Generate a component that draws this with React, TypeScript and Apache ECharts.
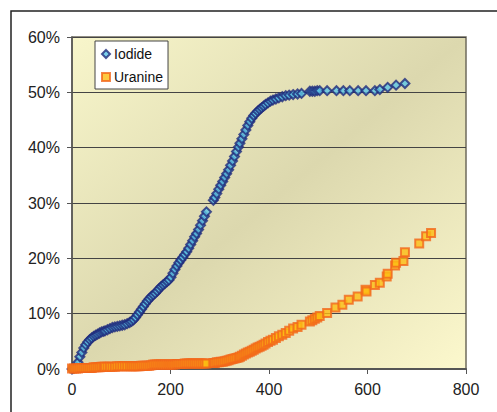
import React, { useEffect, useRef } from "react";
import * as echarts from "echarts";

const iodideT = [0, 4, 8, 12, 16, 20, 24, 28, 32, 36, 40, 44, 48, 52, 56, 60, 64, 67, 72, 77, 82, 87, 92, 97, 102, 107, 112, 117, 121, 125, 129, 133, 137, 141, 145, 149, 153, 157, 161, 165, 169, 173, 177, 181, 185, 189, 193, 197, 201, 205, 209, 213, 217, 221, 225, 229, 233, 237, 241, 245, 249, 253, 257, 261, 265, 269, 273, 287, 290, 294, 298, 302, 306, 310, 314, 318, 322, 326, 330, 334, 338, 341, 345, 349, 353, 357, 361, 365, 369, 373, 377, 381, 385, 389, 393, 398, 403, 408, 414, 420, 427, 434, 441, 449, 458, 466, 483, 488, 493, 498, 503, 518, 537, 551, 564, 581, 597, 615, 625, 641, 658, 676];
const iodideV = [0, 0.1, 0.4, 1.2, 2.2, 3.0, 3.8, 4.4, 4.9, 5.3, 5.6, 5.9, 6.1, 6.3, 6.5, 6.7, 6.8, 6.9, 7.1, 7.3, 7.5, 7.6, 7.7, 7.8, 7.9, 8.0, 8.2, 8.4, 8.6, 8.9, 9.3, 9.8, 10.3, 10.8, 11.3, 11.8, 12.3, 12.7, 13.1, 13.4, 13.7, 14.1, 14.5, 14.9, 15.2, 15.5, 15.8, 16.1, 16.6, 17.3, 18.0, 18.6, 19.2, 19.7, 20.2, 20.7, 21.2, 21.8, 22.5, 23.2, 23.9, 24.5, 25.2, 26.0, 26.8, 27.6, 28.4, 30.5, 31.0, 31.7, 32.5, 33.2, 33.9, 34.6, 35.3, 36.0, 36.8, 37.6, 38.4, 39.3, 40.1, 40.8, 41.6, 42.4, 43.2, 44.0, 44.7, 45.3, 45.8, 46.2, 46.6, 46.9, 47.2, 47.5, 47.8, 48.1, 48.4, 48.6, 48.8, 49.0, 49.2, 49.4, 49.5, 49.6, 49.7, 49.8, 50.2, 50.2, 50.2, 50.3, 50.3, 50.3, 50.3, 50.3, 50.3, 50.3, 50.3, 50.3, 50.5, 50.9, 51.3, 51.6];

const uranineT = [0, 4, 8, 12, 16, 20, 24, 28, 32, 36, 40, 44, 48, 52, 56, 60, 64, 67, 72, 77, 82, 87, 92, 97, 102, 107, 112, 117, 121, 125, 129, 133, 137, 141, 145, 149, 153, 157, 161, 165, 169, 173, 177, 181, 185, 189, 193, 197, 201, 205, 209, 213, 217, 221, 225, 229, 233, 237, 241, 245, 249, 253, 257, 261, 265, 269, 273, 287, 290, 294, 298, 302, 306, 310, 314, 318, 322, 326, 330, 334, 338, 341, 345, 349, 353, 357, 361, 365, 369, 373, 377, 381, 385, 389, 393, 398, 403, 408, 414, 420, 427, 434, 441, 449, 458, 466, 483, 488, 493, 498, 503, 518, 535, 549, 562, 580, 596, 598, 615, 625, 639, 641, 656, 658, 673, 676, 705, 719, 729];
const uranineV = [0.1, 0.1, 0.1, 0.1, 0.2, 0.2, 0.2, 0.2, 0.2, 0.2, 0.2, 0.3, 0.3, 0.3, 0.3, 0.4, 0.4, 0.4, 0.4, 0.4, 0.4, 0.4, 0.5, 0.5, 0.5, 0.5, 0.5, 0.5, 0.5, 0.5, 0.5, 0.5, 0.5, 0.6, 0.6, 0.6, 0.6, 0.6, 0.7, 0.8, 0.8, 0.8, 0.8, 0.8, 0.8, 0.8, 0.8, 0.8, 0.8, 0.8, 0.8, 0.9, 0.9, 0.9, 0.9, 1.0, 1.0, 1.0, 1.0, 1.0, 1.0, 1.0, 1.0, 1.0, 1.0, 1.0, 1.0, 1.1, 1.1, 1.2, 1.2, 1.3, 1.3, 1.4, 1.5, 1.6, 1.7, 1.8, 1.9, 2.0, 2.1, 2.2, 2.4, 2.6, 2.8, 3.0, 3.1, 3.3, 3.5, 3.7, 3.9, 4.0, 4.2, 4.4, 4.6, 4.9, 5.1, 5.3, 5.6, 5.9, 6.2, 6.5, 6.9, 7.3, 7.6, 8.0, 8.6, 8.8, 9.1, 9.3, 9.6, 10.1, 11.1, 11.6, 12.5, 13.1, 14.3, 14.0, 15.2, 15.6, 16.7, 17.2, 18.7, 19.2, 19.5, 21.1, 22.7, 24.0, 24.6];

const xTicks = [0, 200, 400, 600, 800];
const yTicks = [0, 10, 20, 30, 40, 50, 60];

export default function App() {
  const ref = useRef<HTMLDivElement>(null);
  useEffect(() => {
    if (!ref.current) return;
    const chart = echarts.init(ref.current, undefined, { renderer: "svg" });
    const font = "'Liberation Sans', Arial, sans-serif";
    chart.setOption({
      animation: false,
      graphic: [
        {
          type: "rect",
          shape: { x: 11, y: 11, width: 520, height: 440 },
          style: { fill: "none", stroke: "#222", lineWidth: 1.5 },
          z: -10,
        },
      ],
      grid: {
        left: 72,
        top: 37,
        right: 31,
        bottom: 43,
        show: true,
        borderColor: "#6f6b5c",
        borderWidth: 1.5,
        backgroundColor: new echarts.graphic.LinearGradient(0, 0, 1, 1, [
          { offset: 0, color: "#f8f6cb" },
          { offset: 0.5, color: "#dcd8ae" },
          { offset: 1, color: "#fcf8cd" },
        ]),
      },
      legend: {
        left: 95,
        top: 41,
        orient: "vertical",
        backgroundColor: "#ffffff",
        borderColor: "#444",
        borderWidth: 1,
        borderRadius: 0,
        padding: [6, 5, 5, 6],
        itemGap: 9,
        itemWidth: 8,
        itemHeight: 8,
        textStyle: { fontFamily: font, fontSize: 14, color: "#111", padding: [0, 0, 0, -1] },
        data: [
          { name: "Iodide", icon: "diamond" },
          { name: "Uranine", icon: "rect" },
        ],
      },
      xAxis: {
        type: "value",
        min: 0,
        max: 800,
        interval: 200,
        axisLine: { show: true, lineStyle: { color: "#555", width: 2 } },
        axisTick: { show: true, length: 5, lineStyle: { color: "#555" } },
        splitLine: { show: false },
        axisLabel: { fontFamily: font, fontSize: 16, color: "#222", margin: 12 },
      },
      yAxis: {
        type: "value",
        min: 0,
        max: 60,
        interval: 10,
        axisLine: { show: true, lineStyle: { color: "#555", width: 1.5 } },
        axisTick: { show: true, length: 5, lineStyle: { color: "#555" } },
        splitLine: { show: true, lineStyle: { color: "#444", width: 1 } },
        axisLabel: { fontFamily: font, fontSize: 16, color: "#222", margin: 12, formatter: "{value}%" },
      },
      series: [
        {
          name: "Iodide",
          type: "scatter",
          symbol: "diamond",
          symbolSize: 9,
          itemStyle: { color: "#5cc6e6", borderColor: "#1f2a7c", borderWidth: 2 },
          data: iodideT.map((t, i) => [t, iodideV[i]]),
          z: 2,
        },
        {
          name: "Uranine",
          type: "scatter",
          symbol: "rect",
          symbolSize: 8,
          itemStyle: { color: "#fdbb12", borderColor: "#f3661a", borderWidth: 2 },
          data: uranineT.map((t, i) => [t, uranineV[i]]),
          z: 3,
        },
      ],
    });
    return () => chart.dispose();
  }, []);
  return <div ref={ref} style={{ width: 497, height: 412, position: "absolute", left: 0, top: 0 }} />;
}
